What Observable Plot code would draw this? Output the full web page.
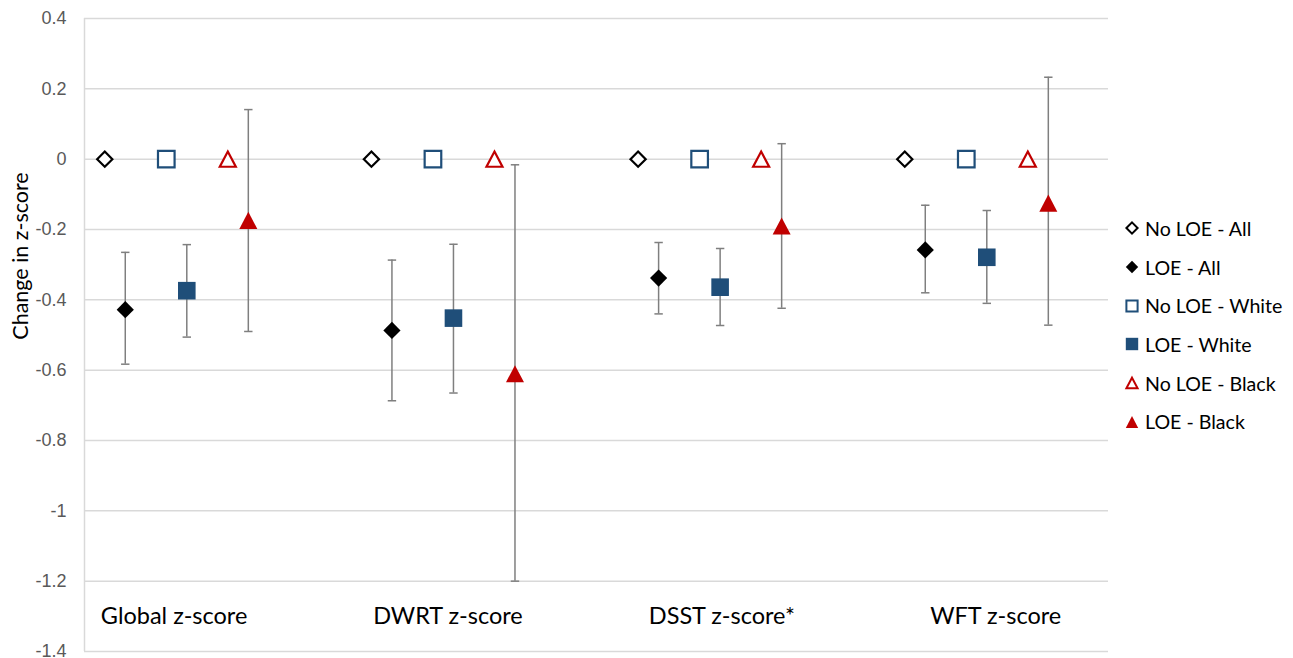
<!DOCTYPE html>
<html><head><meta charset="utf-8">
<script src="https://cdn.jsdelivr.net/npm/d3@7"></script>
<script src="https://cdn.jsdelivr.net/npm/@observablehq/plot@0.6"></script>
<style>
body{margin:0;background:#fff;}
#wrap{position:relative;width:1293px;height:658px;overflow:hidden;}
#legend{position:absolute;left:1124px;top:209px;font-family:Lato, sans-serif;font-size:19.6px;color:#000;}
#legend .row{display:flex;align-items:center;height:38.7px;white-space:nowrap;}
#legend svg{margin-right:5px;}
</style></head><body><div id="wrap"><div id="legend"></div></div>
<script>
// ---------- data ----------
const categories = ["Global z-score", "DWRT z-score", "DSST z-score*", "WFT z-score"];
const seriesNames = ["No LOE - All", "LOE - All", "No LOE - White", "LOE - White", "No LOE - Black", "LOE - Black"];
const noLoeAll     = [0, 0, 0, 0];
const loeAll       = [-0.428, -0.487, -0.338, -0.258];
const loeAllLow    = [-0.583, -0.687, -0.440, -0.380];
const loeAllHigh   = [-0.265, -0.287, -0.237, -0.131];
const noLoeWhite   = [0, 0, 0, 0];
const loeWhite     = [-0.374, -0.452, -0.364, -0.279];
const loeWhiteLow  = [-0.506, -0.665, -0.473, -0.410];
const loeWhiteHigh = [-0.243, -0.242, -0.254, -0.146];
const noLoeBlack   = [0, 0, 0, 0];
const loeBlack     = [-0.174, -0.610, -0.190, -0.125];
const loeBlackLow  = [-0.490, -1.200, -0.424, -0.472];
const loeBlackHigh = [0.141, -0.016, 0.044, 0.233];
const yTicks = [-1.4, -1.2, -1, -0.8, -0.6, -0.4, -0.2, 0, 0.2, 0.4];

// ---------- layout / style config ----------
const seriesSlot = [0, 1, 3, 4, 6, 7];      // dodge slots within a category
const slotWidth = 0.0769;                    // in category units
const xDomain = [-0.076, 3.764];
const labelStart = 0.26, labelStep = 1.027;  // category label placement (category units)
const BLUE = "#1f4e79", RED = "#c00000", BLACK = "#000000", ERR = "#7f7f7f";

// custom symbols (size = pi r^2)
const half = size => Math.sqrt(size / Math.PI);
const diamond = {draw(c, size){const s = half(size); c.moveTo(0,-s); c.lineTo(s,0); c.lineTo(0,s); c.lineTo(-s,0); c.closePath();}};
const square = {draw(c, size){const s = half(size); c.rect(-s,-s,2*s,2*s);}};
const triangle = {draw(c, size){const s = half(size); const h = s*0.95; c.moveTo(0,-h); c.lineTo(s,h); c.lineTo(-s,h); c.closePath();}};
const cap = {draw(c, size){const s = half(size); c.moveTo(-s,0); c.lineTo(s,0);}};

const series = [
  {name: seriesNames[0], vals: noLoeAll,   sym: diamond,  color: BLACK, hollow: true,  r: 7.6},
  {name: seriesNames[1], vals: loeAll,     sym: diamond,  color: BLACK, hollow: false, r: 8.6, lo: loeAllLow, hi: loeAllHigh},
  {name: seriesNames[2], vals: noLoeWhite, sym: square,   color: BLUE,  hollow: true,  r: 8.3},
  {name: seriesNames[3], vals: loeWhite,   sym: square,   color: BLUE,  hollow: false, r: 8.8, lo: loeWhiteLow, hi: loeWhiteHigh},
  {name: seriesNames[4], vals: noLoeBlack, sym: triangle, color: RED,   hollow: true,  r: 8.0},
  {name: seriesNames[5], vals: loeBlack,   sym: triangle, color: RED,   hollow: false, r: 9.0, lo: loeBlackLow, hi: loeBlackHigh}
];

const rows = [];
series.forEach((s, si) => {
  s.vals.forEach((v, i) => {
    rows.push({series: s.name, si, x: i + seriesSlot[si] * slotWidth, y: v,
               lo: s.lo ? s.lo[i] : null, hi: s.hi ? s.hi[i] : null});
  });
});
const errRows = rows.filter(d => d.lo != null);

const marks = [
  Plot.gridY(yTicks, {stroke: "#d9d9d9", strokeOpacity: 1, strokeWidth: 1.5}),
  Plot.ruleX([xDomain[0]], {stroke: "#d9d9d9", strokeWidth: 1.5}),
  Plot.axisY(yTicks, {tickSize: 0, tickPadding: 18, color: "#595959", fontSize: 18, label: null,
    tickFormat: d => String(Math.round(d * 10) / 10)}),
  Plot.ruleX(errRows, {x: "x", y1: "lo", y2: "hi", stroke: ERR, strokeWidth: 1.5}),
  Plot.dot(errRows, {x: "x", y: "lo", symbol: cap, r: 4.2, stroke: ERR, fill: "none", strokeWidth: 1.5}),
  Plot.dot(errRows, {x: "x", y: "hi", symbol: cap, r: 4.2, stroke: ERR, fill: "none", strokeWidth: 1.5})
];
series.forEach((s, si) => {
  const data = rows.filter(d => d.si === si);
  marks.push(Plot.dot(data, {x: "x", y: "y", symbol: s.sym, r: s.r,
    fill: s.hollow ? "white" : s.color,
    stroke: s.hollow ? s.color : "none",
    strokeWidth: s.hollow ? 2.2 : 0}));
});
marks.push(Plot.text(categories, {x: (d, i) => labelStart + i * labelStep, text: d => d, frameAnchor: "bottom", dy: -28,
  fontSize: 23.5, fontFamily: "Lato, sans-serif", fill: "#000", textAnchor: "middle"}));

const chart = Plot.plot({
  width: 1293, height: 658,
  marginLeft: 84, marginRight: 185, marginTop: 18, marginBottom: 7,
  x: {domain: xDomain, axis: null},
  y: {domain: [-1.4, 0.4], axis: null},
  style: {fontFamily: "Liberation Sans, Arial, sans-serif", fontSize: "18px", background: "white", overflow: "visible"},
  marks
});
const wrap = document.getElementById("wrap");
wrap.insertBefore(chart, wrap.firstChild);

// y-axis title
d3.select(chart).append("text")
  .attr("transform", "translate(28,256) rotate(-90)")
  .attr("text-anchor", "middle")
  .attr("font-family", "Lato, sans-serif")
  .attr("font-size", 21.5)
  .attr("fill", "#000")
  .text("Change in z-score");

// legend
const legend = d3.select("#legend");
series.forEach(s => {
  const row = legend.append("div").attr("class", "row");
  const svg = row.append("svg").attr("width", 16).attr("height", 16);
  const p = d3.path();
  s.sym.draw(p, s.hollow ? Math.PI * 5.6 * 5.6 : Math.PI * 6.2 * 6.2);
  svg.append("path").attr("d", p.toString()).attr("transform", "translate(8,8)")
    .attr("fill", s.hollow ? "white" : s.color)
    .attr("stroke", s.hollow ? s.color : "none")
    .attr("stroke-width", s.hollow ? 2 : 0);
  row.append("span").text(s.name);
});
</script>
</body></html>
